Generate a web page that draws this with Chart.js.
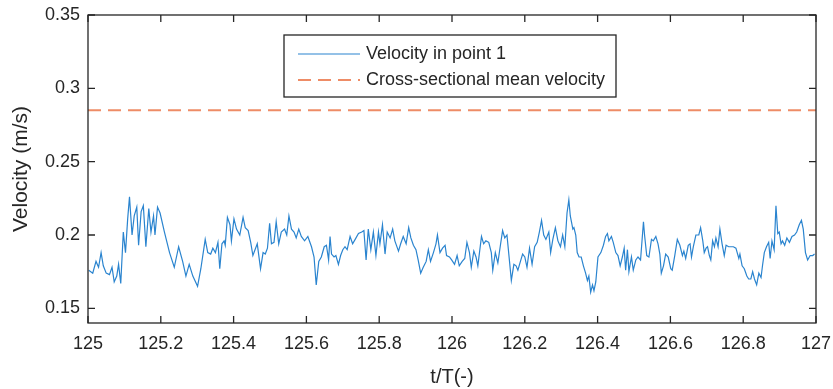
<!DOCTYPE html>
<html>
<head>
<meta charset="utf-8">
<script src="https://cdn.jsdelivr.net/npm/chart.js@4/dist/chart.umd.min.js"></script>
<style>
  html, body { margin: 0; padding: 0; background: #fff; }
  #wrap { width: 833px; height: 389px; position: relative; }
</style>
</head>
<body>
<div id="wrap"><canvas id="velChart"></canvas></div>
<script>
// t/T values (peaks and troughs)
const time = [
  125.002, 125.013, 125.022, 125.029, 125.036, 125.042, 125.050, 125.059, 125.066, 125.072,
  125.079, 125.084, 125.090, 125.097, 125.103, 125.109, 125.114, 125.121, 125.127, 125.134,
  125.139, 125.146, 125.152, 125.159, 125.167, 125.173, 125.180, 125.184, 125.191, 125.198,
  125.210, 125.224, 125.237, 125.249, 125.260, 125.269, 125.278, 125.288, 125.301, 125.310,
  125.322, 125.329,
  125.337, 125.343, 125.350, 125.357, 125.362, 125.368, 125.374, 125.377, 125.383, 125.390,
  125.394, 125.401, 125.408, 125.417, 125.426, 125.432, 125.440, 125.447, 125.453, 125.465,
  125.474, 125.481, 125.487, 125.493, 125.499, 125.504, 125.511, 125.517, 125.524, 125.531,
  125.540, 125.546, 125.552, 125.559, 125.566, 125.572, 125.579, 125.586, 125.595, 125.604,
  125.614, 125.621, 125.627, 125.634, 125.641, 125.649, 125.655, 125.661,
  125.665, 125.669, 125.676, 125.681, 125.688, 125.694, 125.700, 125.706, 125.712, 125.720,
  125.727, 125.734, 125.743, 125.752, 125.758, 125.764, 125.770, 125.777, 125.784, 125.791,
  125.798, 125.802, 125.809, 125.816, 125.822, 125.830, 125.837, 125.843, 125.853, 125.859,
  125.866, 125.874, 125.881, 125.887, 125.894, 125.901, 125.907, 125.914, 125.921, 125.929,
  125.935, 125.941, 125.949, 125.956, 125.960, 125.967, 125.974, 125.981, 125.985, 125.993,
  125.999,
  126.007, 126.014, 126.020, 126.028, 126.035, 126.041, 126.048, 126.053, 126.060, 126.066,
  126.071, 126.081, 126.087, 126.093, 126.101, 126.108, 126.112, 126.119, 126.126, 126.133,
  126.139, 126.145, 126.151, 126.158, 126.163, 126.170, 126.176, 126.181, 126.188, 126.194,
  126.200, 126.206, 126.213, 126.220, 126.227, 126.234, 126.240, 126.246, 126.252, 126.258,
  126.266, 126.271, 126.277, 126.284, 126.291, 126.298, 126.304, 126.310, 126.316, 126.321,
  126.325, 126.332,
  126.335, 126.340, 126.344, 126.349, 126.355, 126.361, 126.367, 126.372, 126.376, 126.381,
  126.386, 126.390, 126.395, 126.401, 126.409, 126.416, 126.422, 126.427, 126.431, 126.438,
  126.443, 126.450, 126.456, 126.462, 126.468, 126.473, 126.477, 126.482, 126.486, 126.493,
  126.498, 126.505, 126.511, 126.518, 126.526, 126.529, 126.535, 126.541, 126.548, 126.553,
  126.560, 126.566, 126.571, 126.575, 126.581, 126.587, 126.594, 126.601, 126.605, 126.612,
  126.619, 126.626, 126.633, 126.637, 126.642, 126.649, 126.654, 126.658, 126.663, 126.670,
  126.678, 126.683, 126.689, 126.693, 126.698, 126.702, 126.707, 126.711, 126.716, 126.721,
  126.725, 126.731, 126.736, 126.742, 126.748, 126.753, 126.760, 126.767, 126.773, 126.780,
  126.788, 126.791, 126.797, 126.803, 126.810, 126.815, 126.821, 126.826, 126.831, 126.837,
  126.843, 126.849, 126.853, 126.858, 126.864, 126.870, 126.874, 126.879, 126.885, 126.890,
  126.895, 126.899, 126.904, 126.908, 126.914, 126.920, 126.927, 126.934, 126.941, 126.947,
  126.954, 126.960, 126.965, 126.971, 126.977, 126.984, 126.991, 126.996
];

// Velocity in point 1 (m/s)
const velocity = [
  0.176, 0.174, 0.182, 0.178, 0.188, 0.179, 0.174, 0.173, 0.178, 0.168,
  0.172, 0.180, 0.167, 0.202, 0.188, 0.211, 0.226, 0.200, 0.213, 0.219,
  0.193, 0.216, 0.220, 0.192, 0.218, 0.202, 0.213, 0.200, 0.219, 0.215,
  0.202, 0.188, 0.178, 0.192, 0.182, 0.172, 0.180, 0.172, 0.165, 0.177,
  0.197, 0.188,
  0.187, 0.191, 0.188, 0.195, 0.177, 0.194, 0.196, 0.193, 0.212, 0.207,
  0.196, 0.211, 0.204, 0.200, 0.212, 0.205, 0.203, 0.195, 0.186, 0.194,
  0.177, 0.188, 0.187, 0.191, 0.208, 0.194, 0.195, 0.209, 0.194, 0.202,
  0.204, 0.200, 0.213, 0.204, 0.202, 0.198, 0.204, 0.199, 0.196, 0.199,
  0.192, 0.185, 0.166, 0.182, 0.185, 0.192, 0.193, 0.183,
  0.199, 0.187, 0.185, 0.186, 0.180, 0.186, 0.190, 0.192, 0.190, 0.199,
  0.194, 0.197, 0.201, 0.202, 0.203, 0.183, 0.204, 0.190, 0.202, 0.186,
  0.202, 0.194, 0.207, 0.187, 0.202, 0.198, 0.204, 0.196, 0.189, 0.194,
  0.199, 0.194, 0.205, 0.198, 0.193, 0.190, 0.183, 0.174, 0.178, 0.182,
  0.190, 0.182, 0.188, 0.194, 0.200, 0.188, 0.191, 0.193, 0.186, 0.185,
  0.183,
  0.180, 0.186, 0.179, 0.182, 0.184, 0.195, 0.188, 0.178, 0.189, 0.185,
  0.179, 0.199, 0.194, 0.196, 0.195, 0.188, 0.176, 0.188, 0.181, 0.193,
  0.203, 0.198, 0.200, 0.182, 0.169, 0.180, 0.179, 0.176, 0.182, 0.187,
  0.185, 0.178, 0.191, 0.180, 0.192, 0.195, 0.202, 0.210, 0.200, 0.197,
  0.202, 0.188, 0.197, 0.205, 0.196, 0.192, 0.200, 0.192, 0.215, 0.224,
  0.213, 0.204,
  0.205, 0.200, 0.188, 0.185, 0.185, 0.179, 0.174, 0.169, 0.172, 0.161,
  0.166, 0.162, 0.168, 0.185, 0.188, 0.193, 0.199, 0.201, 0.196, 0.199,
  0.195, 0.188, 0.186, 0.179, 0.185, 0.191, 0.176, 0.190, 0.175, 0.185,
  0.176, 0.183, 0.185, 0.183, 0.209, 0.200, 0.186, 0.185, 0.197, 0.196,
  0.199, 0.194, 0.187, 0.174, 0.179, 0.187, 0.185, 0.177, 0.176, 0.186,
  0.197, 0.193, 0.186, 0.189, 0.184, 0.193, 0.194, 0.185, 0.192, 0.200,
  0.200, 0.205, 0.196, 0.188, 0.191, 0.192, 0.186, 0.183, 0.196, 0.192,
  0.198, 0.192, 0.204, 0.194, 0.186, 0.193, 0.192, 0.192, 0.192, 0.191,
  0.184, 0.187, 0.179, 0.177, 0.172, 0.170, 0.170, 0.175, 0.170, 0.166,
  0.174, 0.171, 0.179, 0.188, 0.192, 0.195, 0.184, 0.196, 0.190, 0.220,
  0.201, 0.202, 0.194, 0.196, 0.193, 0.198, 0.195, 0.199, 0.200, 0.202,
  0.207, 0.210, 0.204, 0.188, 0.183, 0.186, 0.186, 0.187
];

// Cross-sectional mean velocity (constant)
const meanTime = [125, 127];
const meanVelocity = [0.285, 0.285];

const xTicks = [125, 125.2, 125.4, 125.6, 125.8, 126, 126.2, 126.4, 126.6, 126.8, 127];
const yTicks = [0.15, 0.2, 0.25, 0.3, 0.35];

const FONT = '"Liberation Sans", Arial, Helvetica, sans-serif';
const AXIS_COLOR = '#262626';

// MATLAB-style box with inward ticks
const boxPlugin = {
  id: 'matlabBox',
  afterDatasetsDraw(chart) {
    const { ctx, chartArea: a, scales } = chart;
    ctx.save();
    ctx.strokeStyle = AXIS_COLOR;
    ctx.lineWidth = 1.3;
    ctx.strokeRect(a.left, a.top, a.right - a.left, a.bottom - a.top);
    const len = 7;
    ctx.beginPath();
    xTicks.forEach(v => {
      const px = scales.x.getPixelForValue(v);
      ctx.moveTo(px, a.bottom); ctx.lineTo(px, a.bottom - len);
      ctx.moveTo(px, a.top); ctx.lineTo(px, a.top + len);
    });
    yTicks.forEach(v => {
      const py = scales.y.getPixelForValue(v);
      ctx.moveTo(a.left, py); ctx.lineTo(a.left + len, py);
      ctx.moveTo(a.right, py); ctx.lineTo(a.right - len, py);
    });
    ctx.stroke();
    ctx.restore();
  }
};

// legend box drawn like MATLAB's, inside the plot
const legendPlugin = {
  id: 'boxLegend',
  afterDraw(chart) {
    const { ctx, chartArea: a } = chart;
    const bx = a.left + 196, by = a.top + 20, bw = 332, bh = 62;
    ctx.save();
    ctx.fillStyle = '#fff';
    ctx.fillRect(bx, by, bw, bh);
    ctx.strokeStyle = AXIS_COLOR;
    ctx.lineWidth = 1.3;
    ctx.strokeRect(bx, by, bw, bh);
    ctx.font = '18px ' + FONT;
    ctx.textBaseline = 'middle';
    chart.data.datasets.forEach((ds, i) => {
      const y = by + 19 + i * 26;
      ctx.strokeStyle = ds.borderColor;
      ctx.lineWidth = ds.borderWidth;
      ctx.setLineDash(ds.borderDash || []);
      ctx.beginPath();
      ctx.moveTo(bx + 14, y);
      ctx.lineTo(bx + 76, y);
      ctx.stroke();
      ctx.setLineDash([]);
      ctx.fillStyle = AXIS_COLOR;
      ctx.fillText(ds.label, bx + 82, y);
    });
    ctx.restore();
  }
};

new Chart(document.getElementById('velChart'), {
  type: 'line',
  data: {
    datasets: [
      {
        label: 'Velocity in point 1',
        data: time.map((t, i) => ({ x: t, y: velocity[i] })),
        borderColor: '#2a84cf',
        borderWidth: 1.2,
        pointRadius: 0,
        tension: 0
      },
      {
        label: 'Cross-sectional mean velocity',
        data: meanTime.map((t, i) => ({ x: t, y: meanVelocity[i] })),
        borderColor: '#ee8c66',
        borderWidth: 2,
        borderDash: [13, 7],
        pointRadius: 0
      }
    ]
  },
  options: {
    responsive: true,
    maintainAspectRatio: false,
    animation: false,
    layout: { padding: { top: 15, right: 17, left: 0, bottom: 0 } },
    plugins: {
      legend: { display: false },
      tooltip: { enabled: false }
    },
    scales: {
      x: {
        type: 'linear',
        min: 125,
        max: 127,
        afterBuildTicks: s => { s.ticks = xTicks.map(v => ({ value: v })); },
        afterFit: s => { s.height = 66; s.paddingLeft = 0; s.paddingRight = 0; },
        grid: { display: false, drawTicks: false },
        border: { display: false },
        ticks: {
          padding: 10,
          color: AXIS_COLOR,
          font: { family: FONT, size: 18 },
          maxRotation: 0,
          autoSkip: false,
          callback: v => String(Number(v.toFixed(1)))
        },
        title: {
          display: true,
          text: 't/T(-)',
          color: AXIS_COLOR,
          font: { family: FONT, size: 20 },
          padding: { top: 0, bottom: 0 }
        }
      },
      y: {
        min: 0.14,
        max: 0.35,
        afterBuildTicks: s => { s.ticks = yTicks.map(v => ({ value: v })); },
        afterFit: s => { s.width = 88; s.paddingTop = 0; s.paddingBottom = 0; },
        grid: { display: false, drawTicks: false },
        border: { display: false },
        ticks: {
          padding: 8,
          color: AXIS_COLOR,
          font: { family: FONT, size: 18 },
          autoSkip: false,
          callback: v => String(Number(v.toFixed(2)))
        },
        title: {
          display: true,
          text: 'Velocity (m/s)',
          color: AXIS_COLOR,
          font: { family: FONT, size: 21 },
          padding: { top: 9, bottom: 0 }
        }
      }
    }
  },
  plugins: [boxPlugin, legendPlugin]
});
</script>
</body>
</html>
